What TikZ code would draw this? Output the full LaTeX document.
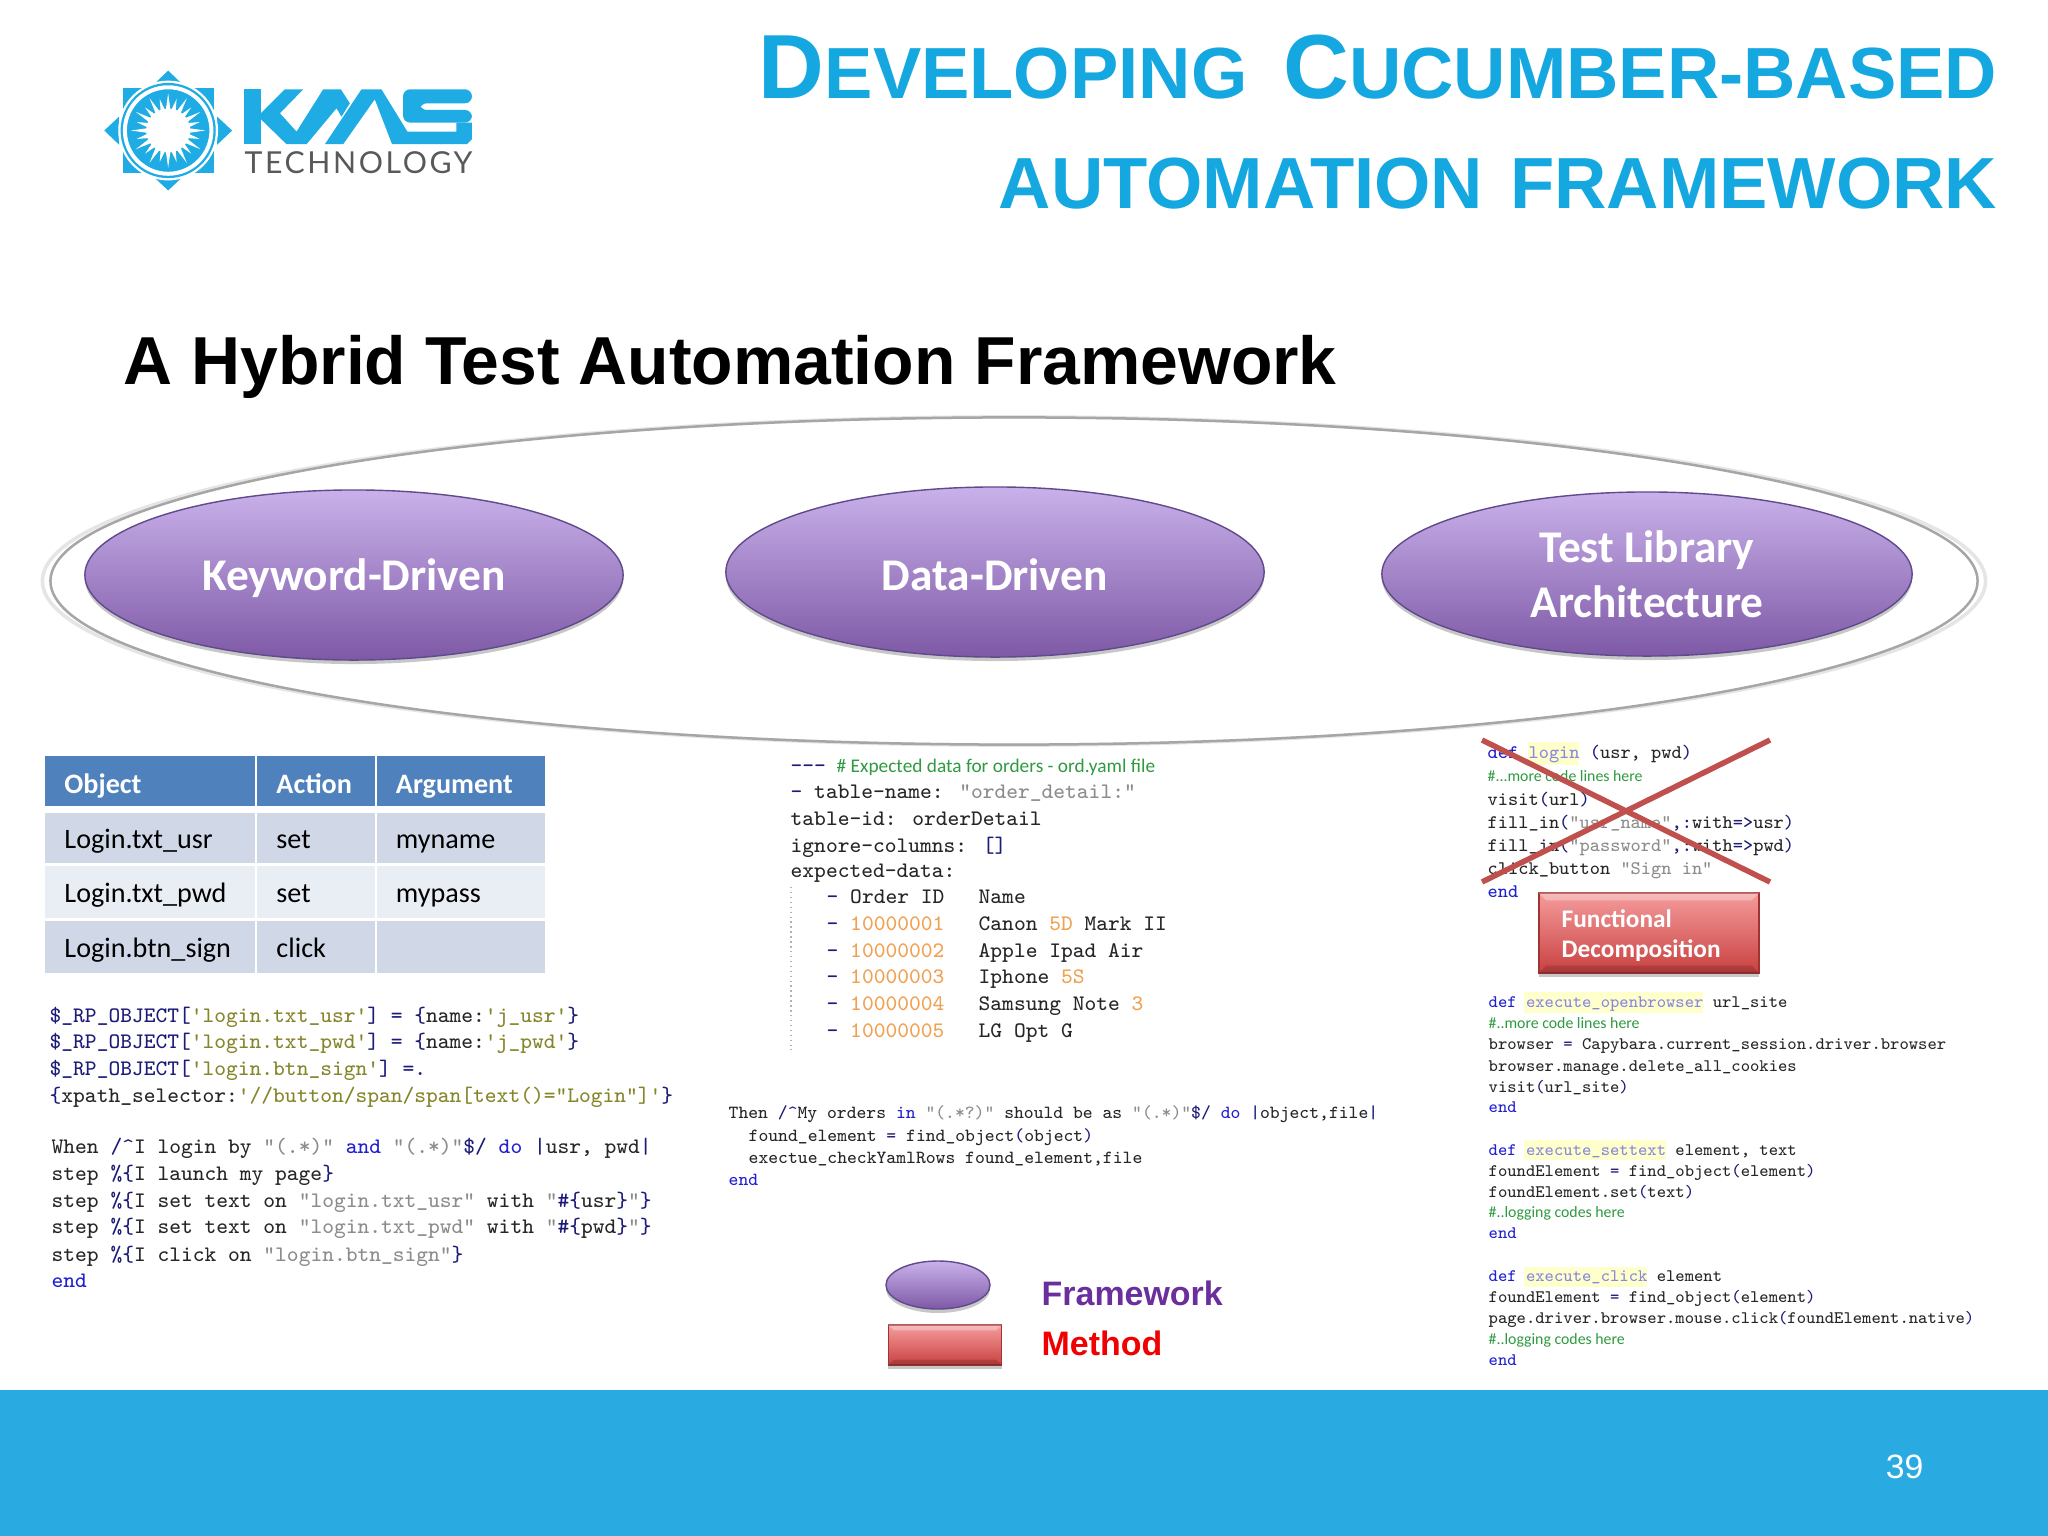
\documentclass[tikz,border=0pt]{standalone}
\usepackage{fontspec}
\setmainfont{Liberation Sans}
\newfontfamily\calfont{Carlito}
\newfontfamily\techfont[LetterSpace=8.5]{Lato}
\usetikzlibrary{shapes.geometric,shadows,calc}

\definecolor{kmsblue}{HTML}{1FABE3}
\definecolor{titleblue}{HTML}{15A8E0}
\definecolor{barblue}{HTML}{29ABE2}
\definecolor{kmsgray}{HTML}{58595B}
\definecolor{headblue}{HTML}{4F81BD}
\definecolor{rowdark}{HTML}{D0D8E8}
\definecolor{rowlight}{HTML}{E9EDF4}
\definecolor{lilactop}{HTML}{C9B1EA}
\definecolor{lilacbot}{HTML}{7E59A6}
\definecolor{lilacline}{HTML}{5F4A8B}
\definecolor{redtop}{HTML}{F59C9C}
\definecolor{redbot}{HTML}{C94040}
\definecolor{crossred}{HTML}{C0504D}
\definecolor{codetext}{HTML}{262626}
\definecolor{kwblue}{HTML}{2020D0}
\definecolor{navy}{HTML}{1C1C78}
\definecolor{strgray}{HTML}{8C8C8C}
\definecolor{olive}{HTML}{85852A}
\definecolor{numorange}{HTML}{F0A050}
\definecolor{cmtgreen}{HTML}{2F9A3F}
\definecolor{fnlilac}{HTML}{8888E0}
\definecolor{hlyellow}{HTML}{FFFFCC}
\definecolor{legpurple}{HTML}{6A2F9C}
\definecolor{legred}{HTML}{F00000}

\newcommand{\titlecap}[1]{{\fontsize{25.9}{30}\selectfont #1}}
\newcommand{\titlesml}[1]{{\fontsize{20.6}{30}\selectfont #1}}
\newcommand{\kwd}[1]{\textcolor{kwblue}{#1}}
\newcommand{\pnc}[1]{\textcolor{navy}{#1}}
\newcommand{\strg}[1]{\textcolor{strgray}{#1}}
\newcommand{\stro}[1]{\textcolor{olive}{#1}}
\newcommand{\numo}[1]{\textcolor{numorange}{#1}}
\newcommand{\fnm}[1]{\textcolor{fnlilac}{#1}}

\tikzset{
  frameoval/.style={ellipse,inner sep=0pt,shade,top color=lilactop,bottom color=lilacbot,draw=lilacline,line width=0.4pt,
    drop shadow={shadow xshift=0cm,shadow yshift=-0.04cm,fill=black,opacity=0.22},text=white,align=center,
    font=\calfont\bfseries\fontsize{12.9}{15.7}\selectfont},
  methodbox/.style={rectangle,inner sep=0pt,shade,top color=redtop,bottom color=redbot,draw=redbot!80!black,line width=0.4pt,
    drop shadow={shadow xshift=0cm,shadow yshift=-0.04cm,fill=black,opacity=0.22}},
  headcell/.style={rectangle,fill=headblue,text=white,inner xsep=0.19cm,inner ysep=0pt,text height=0.31cm,text depth=0.07cm,
    font=\calfont\bfseries\fontsize{8}{10}\selectfont},
  darkcell/.style={headcell,fill=rowdark,text=black,text height=0.27cm,font=\calfont\fontsize{8}{10}\selectfont},
  lightcell/.style={darkcell,fill=rowlight},
  codelg/.style={anchor=base west,inner sep=0pt,text=codetext,font=\ttfamily\fontsize{6.3}{8}\selectfont},
  codemd/.style={codelg,font=\ttfamily\fontsize{5.27}{7}\selectfont},
  codelog/.style={codelg,font=\ttfamily\fontsize{5.47}{7}\selectfont},
  codesm/.style={codelg,font=\ttfamily\fontsize{5.0}{7}\selectfont},
  comment/.style={anchor=base west,inner sep=0pt,text=cmtgreen,font=\calfont\fontsize{4.5}{6}\selectfont},
  legendtext/.style={anchor=base west,inner sep=0pt,font=\bfseries\fontsize{9.65}{12}\selectfont}
}

\begin{document}
\begin{tikzpicture}[x=0.01cm,y=-0.01cm]
  \useasboundingbox (0,0) rectangle (2048,1536);
  \fill [white] (0,0) rectangle (2048,1536);
  \fill [barblue] (0,1390) rectangle (2048,1536);
  \node (pagenum) [anchor=base east,inner sep=0pt,text=white,font=\fontsize{9.6}{12}\selectfont] at (1924,1478) {39};

  % logo
  \begin{scope}[shift={(60,40)},x=0.00333cm,y=-0.00333cm]
    \fill [kmsblue] (188,145) rectangle (463,400);
    \fill [kmsblue] (325,92) -- (280,135) -- (370,135) -- cycle;
    \fill [kmsblue] (325,452) -- (280,410) -- (370,410) -- cycle;
    \fill [kmsblue] (133,272) -- (178,230) -- (178,315) -- cycle;
    \fill [kmsblue] (517,272) -- (472,230) -- (472,315) -- cycle;
    \fill [white] (325,272) circle (150);
    \fill [kmsblue] (325,272) circle (143);
    \draw [white,line width=0.04cm] (325,272) circle (130);
    \fill [white] (325,272) circle (66);
    \foreach \a in {0,30,...,330} {
      \fill [white] ($(325,272)+(\a-7:60)$) -- ($(325,272)+(\a:112)$) -- ($(325,272)+(\a+7:60)$) -- cycle;
      \fill [white] ($(325,272)+(\a+8:60)$) -- ($(325,272)+(\a+15:98)$) -- ($(325,272)+(\a+22:60)$) -- cycle;
    }
  \end{scope}
  \begin{scope}[shift={(235,80)},x=0.00333cm,y=-0.00333cm]
    \fill [kmsblue] (28,28) rectangle (78,193);
    \fill [kmsblue] (78,100) -- (150,28) -- (205,28) -- (135,100) -- (185,155) -- (265,28) -- (318,28) -- (345,70)
      -- (320,110) -- (305,85) -- (215,193) -- (155,193) -- (78,118) -- cycle;
    \fill [kmsblue] (270,193) -- (380,28) -- (440,28) -- (518,155) -- (665,155) -- (665,128) -- (712,128) -- (712,178)
      -- (697,193) -- (472,193) -- (420,58) -- (325,193) -- cycle;
    \fill [kmsblue,rounded corners=0.07cm] (712,28) -- (505,28) -- (505,128) -- (712,128) -- (712,90) -- (555,90)
      -- (555,70) -- (712,70) -- cycle;
  \end{scope}
  \node (kmstech) [anchor=base west,inner sep=0pt,text=kmsgray,font=\techfont\fontsize{8.6}{10}\selectfont] at (244,173) {TECHNOLOGY};

  % titles
  \node (titleone) [anchor=base east,inner sep=0pt,text=titleblue,font=\bfseries] at (1998,98)
    {\titlecap{D}\titlesml{EVELOPING}\hspace{7.5pt} \titlecap{C}\titlesml{UCUMBER-BASED}};
  \node (titletwo) [anchor=base east,inner sep=0pt,text=titleblue,font=\bfseries] at (1998,208)
    {\titlesml{AUTOMATION\hspace{2pt} FRAMEWORK}};
  \node (slidehead) [anchor=base west,inner sep=0pt,font=\bfseries\fontsize{19.3}{24}\selectfont] at (123,384)
    {A Hybrid Test Automation Framework};

  % outer oval
  \node (frameout) [ellipse,inner sep=0pt,draw=gray!20,line width=0.035cm,minimum width=19.42cm,minimum height=3.28cm] at (1014,581) {};
  \node (framein) [ellipse,inner sep=0pt,draw=gray!70,line width=0.025cm,minimum width=19.26cm,minimum height=3.27cm] at (1014,581) {};

  \node (keyword) [frameoval,minimum width=5.38cm,minimum height=1.70cm,text height=0.30cm,text depth=0pt] at (354,575) {Keyword-Driven};
  \node (datadrv) [frameoval,minimum width=5.38cm,minimum height=1.70cm,text height=0.36cm,text depth=0pt] at (995,572) {Data-Driven};
  \node (testlib) [frameoval,minimum width=5.30cm,minimum height=1.64cm] at (1647,574) {Test Library\\Architecture};

  % keyword table
  \node (objhead) [headcell,text width=1.71cm,minimum height=0.50cm] at (150,781) {Object};
  \node (acthead) [headcell,text width=0.79cm,minimum height=0.50cm] at (316,781) {Action};
  \node (arghead) [headcell,text width=1.30cm,minimum height=0.50cm] at (461,781) {Argument};
  \node (objone) [darkcell,text width=1.71cm,minimum height=0.49cm] at (150,838) {Login.txt\_usr};
  \node (actone) [darkcell,text width=0.79cm,minimum height=0.49cm] at (316,838) {set};
  \node (argone) [darkcell,text width=1.30cm,minimum height=0.49cm] at (461,838) {myname};
  \node (objtwo) [lightcell,text width=1.71cm,minimum height=0.51cm] at (150,892) {Login.txt\_pwd};
  \node (acttwo) [lightcell,text width=0.79cm,minimum height=0.51cm] at (316,892) {set};
  \node (argtwo) [lightcell,text width=1.30cm,minimum height=0.51cm] at (461,892) {mypass};
  \node (objthr) [darkcell,text width=1.71cm,minimum height=0.52cm] at (150,947) {Login.btn\_sign};
  \node (actthr) [darkcell,text width=0.79cm,minimum height=0.52cm] at (316,947) {click};
  \node (argthr) [darkcell,text width=1.30cm,minimum height=0.52cm] at (461,947) {};

  % keyword code
  \node (kwa) [codelg] at (49,1022) {\pnc{\$\_RP\_OBJECT[}\stro{'login.txt\_usr'}\pnc{] = \{}name:\stro{'j\_usr'}\pnc{\}}};
  \node (kwb) [codelg] at (49,1048) {\pnc{\$\_RP\_OBJECT[}\stro{'login.txt\_pwd'}\pnc{] = \{}name:\stro{'j\_pwd'}\pnc{\}}};
  \node (kwc) [codelg] at (49,1075) {\pnc{\$\_RP\_OBJECT[}\stro{'login.btn\_sign'}\pnc{] =.}};
  \node (kwd) [codelg] at (49,1102) {\pnc{\{}xpath\_selector:\stro{'//button/span/span[text()="Login"]'}\pnc{\}}};
  \node (kwe) [codelg] at (51,1153) {When \pnc{/\textasciicircum}I login by \strg{"(.*)"} \kwd{and} \strg{"(.*)"}\pnc{\$/} \kwd{do} \pnc{|}usr, pwd\pnc{|}};
  \node (kwf) [codelg] at (51,1180) {step \pnc{\%\{}I launch my page\pnc{\}}};
  \node (kwg) [codelg] at (51,1207) {step \pnc{\%\{}I set text on \strg{"login.txt\_usr"} with \strg{"}\pnc{\#\{}usr\pnc{\}}\strg{"}\pnc{\}}};
  \node (kwh) [codelg] at (51,1233) {step \pnc{\%\{}I set text on \strg{"login.txt\_pwd"} with \strg{"}\pnc{\#\{}pwd\pnc{\}}\strg{"}\pnc{\}}};
  \node (kwi) [codelg] at (51,1261) {step \pnc{\%\{}I click on \strg{"login.btn\_sign"}\pnc{\}}};
  \node (kwj) [codelg] at (51,1287) {\kwd{end}};

  % data code
  \node (yamla) [codelg] at (790,772) {\pnc{---}};
  \node (yamlc) [comment,font=\calfont\fontsize{5.5}{7}\selectfont] at (836,772) {\# Expected data for orders - ord.yaml file};
  \node (yamlb) [codelg] at (790,798) {\pnc{-} table-name: \strg{"order\_detail:"}};
  \node (yamld) [codelg] at (790,825) {table-id: orderDetail};
  \node (yamle) [codelg] at (790,852) {ignore-columns: \pnc{[]}};
  \node (yamlf) [codelg] at (790,877) {expected-data:};
  \coordinate (rulea) at (791,887);
  \coordinate (ruleb) at (791,1050);
  \draw [gray!60,densely dotted] (rulea) -- (ruleb);
  \node (rowa) [codelg] at (826,903) {\pnc{-} Order ID};
  \node (rowan) [codelg] at (978,903) {Name};
  \node (rowb) [codelg] at (826,930) {\pnc{-} \numo{10000001}};
  \node (rowbn) [codelg] at (978,930) {Canon \numo{5D} Mark II};
  \node (rowc) [codelg] at (826,957) {\pnc{-} \numo{10000002}};
  \node (rowcn) [codelg] at (978,957) {Apple Ipad Air};
  \node (rowd) [codelg] at (826,983) {\pnc{-} \numo{10000003}};
  \node (rowdn) [codelg] at (978,983) {Iphone \numo{5S}};
  \node (rowe) [codelg] at (826,1010) {\pnc{-} \numo{10000004}};
  \node (rowen) [codelg] at (978,1010) {Samsung Note \numo{3}};
  \node (rowf) [codelg] at (826,1037) {\pnc{-} \numo{10000005}};
  \node (rowfn) [codelg] at (978,1037) {LG Opt G};

  \node (thena) [codemd] at (728,1118) {Then \pnc{/\textasciicircum}My orders \kwd{in} \strg{"(.*?)"} should be as \strg{"(.*)"}\pnc{\$/} \kwd{do} \pnc{|}object,file\pnc{|}};
  \node (thenb) [codemd] at (748,1141) {found\_element \pnc{=} find\_object\pnc{(}object\pnc{)}};
  \node (thenc) [codemd] at (748,1163) {exectue\_checkYamlRows found\_element,file};
  \node (thend) [codemd] at (728,1185) {\kwd{end}};

  % library code
  \fill [hlyellow] (1528,742) rectangle (1579,765);
  \fill [hlyellow] (1524,992) rectangle (1703,1013);
  \fill [hlyellow] (1524,1140) rectangle (1666,1160);
  \fill [hlyellow] (1524,1267) rectangle (1647,1287);

  \node (loga) [codelog] at (1487,758) {\kwd{def} \fnm{login} \pnc{(}usr, pwd\pnc{)}};
  \node (logb) [comment] at (1487,781) {\#...more code lines here};
  \node (logc) [codelog] at (1487,805) {visit\pnc{(}url\pnc{)}};
  \node (logd) [codelog] at (1487,828) {fill\_in\pnc{(}\strg{"usr\_name"}\pnc{,:}with\pnc{=>}usr\pnc{)}};
  \node (loge) [codelog] at (1487,851) {fill\_in\pnc{(}\strg{"password"}\pnc{,:}with\pnc{=>}pwd\pnc{)}};
  \node (logf) [codelog] at (1487,874) {click\_button \strg{"Sign in"}};
  \node (logg) [codelog] at (1487,897) {\kwd{end}};

  \coordinate (crossa) at (1482,740);
  \coordinate (crossb) at (1770,882);
  \coordinate (crossc) at (1770,740);
  \coordinate (crossd) at (1482,882);
  \draw [crossred,line width=0.055cm] (crossa) -- (crossb);
  \draw [crossred,line width=0.055cm] (crossc) -- (crossd);

  \node (fdbox) [methodbox,minimum width=2.20cm,minimum height=0.80cm] at (1649,933) {};
  \fill [white,opacity=0.3] (fdbox.north west) -- (fdbox.north east) -- ($(fdbox.north east)+(-8,8)$) -- ($(fdbox.north west)+(8,8)$) -- cycle;
  \fill [black,opacity=0.15] (fdbox.south west) -- (fdbox.south east) -- ($(fdbox.south east)+(-8,-8)$) -- ($(fdbox.south west)+(8,-8)$) -- cycle;
  \node (fdone) [anchor=base west,inner sep=0pt,text=white,font=\calfont\bfseries\fontsize{7.2}{9}\selectfont] at (1561,927) {Functional};
  \node (fdtwo) [anchor=base west,inner sep=0pt,text=white,font=\calfont\bfseries\fontsize{7.2}{9}\selectfont] at (1561,957) {Decomposition};

  \node (opna) [codesm] at (1488,1007) {\kwd{def} \fnm{execute\_openbrowser} url\_site};
  \node (opnb) [comment] at (1488,1028) {\#..more code lines here};
  \node (opnc) [codesm] at (1488,1049) {browser \pnc{=} Capybara.current\_session.driver.browser};
  \node (opnd) [codesm] at (1488,1071) {browser.manage.delete\_all\_cookies};
  \node (opne) [codesm] at (1488,1092) {visit\pnc{(}url\_site\pnc{)}};
  \node (opnf) [codesm] at (1488,1112) {\kwd{end}};

  \node (seta) [codesm] at (1488,1155) {\kwd{def} \fnm{execute\_settext} element, text};
  \node (setb) [codesm] at (1488,1176) {foundElement \pnc{=} find\_object\pnc{(}element\pnc{)}};
  \node (setc) [codesm] at (1488,1197) {foundElement.set\pnc{(}text\pnc{)}};
  \node (setd) [comment] at (1488,1217) {\#..logging codes here};
  \node (sete) [codesm] at (1488,1238) {\kwd{end}};

  \node (clka) [codesm] at (1488,1281) {\kwd{def} \fnm{execute\_click} element};
  \node (clkb) [codesm] at (1488,1302) {foundElement \pnc{=} find\_object\pnc{(}element\pnc{)}};
  \node (clkc) [codesm] at (1488,1323) {page.driver.browser.mouse.click\pnc{(}foundElement.native\pnc{)}};
  \node (clkd) [comment] at (1488,1344) {\#..logging codes here};
  \node (clke) [codesm] at (1488,1365) {\kwd{end}};

  % legend
  \node (legoval) [frameoval,minimum width=1.04cm,minimum height=0.48cm] at (938,1285) {};
  \node (legbox) [methodbox,minimum width=1.13cm,minimum height=0.40cm] at (945,1345) {};
  \fill [white,opacity=0.3] (legbox.north west) -- (legbox.north east) -- ($(legbox.north east)+(-6,6)$) -- ($(legbox.north west)+(6,6)$) -- cycle;
  \fill [black,opacity=0.15] (legbox.south west) -- (legbox.south east) -- ($(legbox.south east)+(-6,-6)$) -- ($(legbox.south west)+(6,-6)$) -- cycle;
  \node (legfw) [legendtext,text=legpurple] at (1041,1305) {Framework};
  \node (legmd) [legendtext,text=legred] at (1041,1355) {Method};
\end{tikzpicture}
\end{document}
